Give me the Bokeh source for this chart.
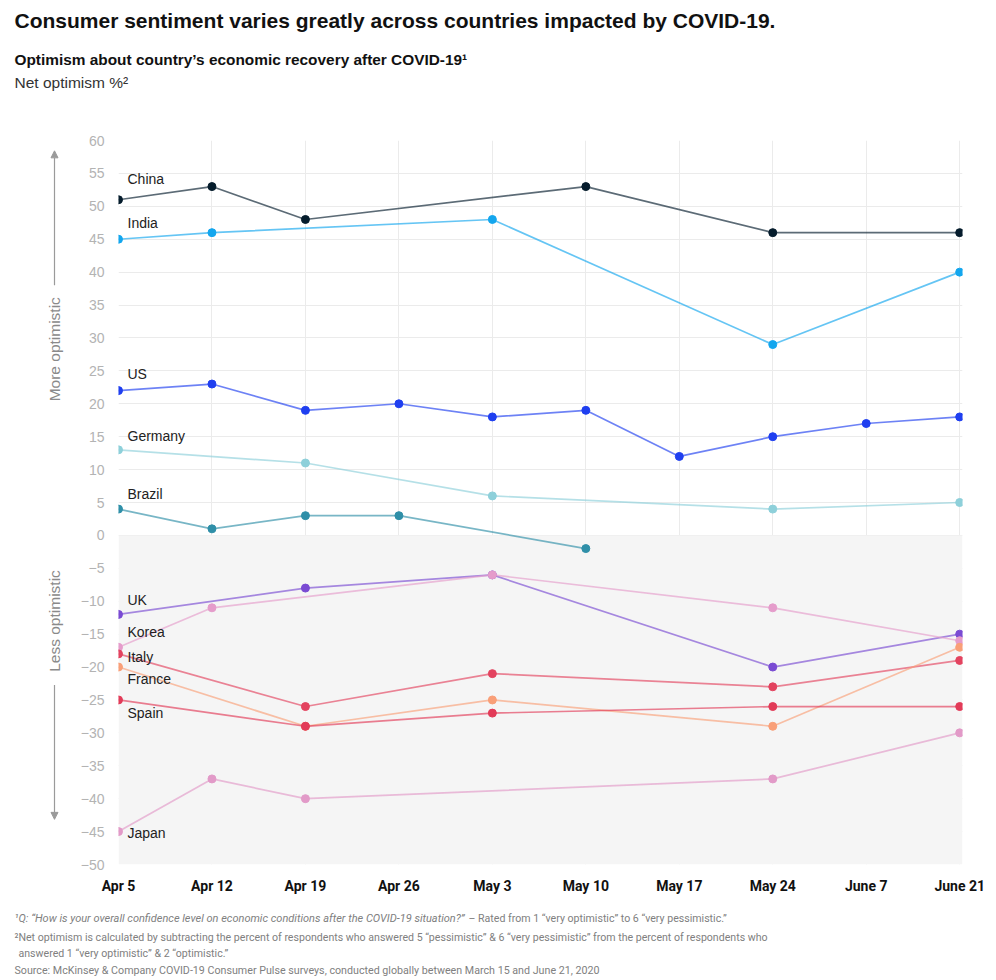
import math
from bokeh.plotting import figure
from bokeh.layouts import column, row
from bokeh.models import (Range1d, FixedTicker, Arrow, NormalHead,
                          BoxAnnotation, ColumnDataSource)
from bokeh.core.properties import value
from bokeh.embed import file_html
from bokeh.resources import INLINE

# ---------------- data ----------------
dates = ["Apr 5", "Apr 12", "Apr 19", "Apr 26", "May 3",
         "May 10", "May 17", "May 24", "June 7", "June 21"]
y_ticks = list(range(-50, 61, 5))

countries = ["China", "India", "US", "Germany", "Brazil", "UK",
             "Korea", "Italy", "France", "Spain", "Japan"]

china_dates = ["Apr 5", "Apr 12", "Apr 19", "May 10", "May 24", "June 21"]
china_vals = [51, 53, 48, 53, 46, 46]
india_dates = ["Apr 5", "Apr 12", "May 3", "May 24", "June 21"]
india_vals = [45, 46, 48, 29, 40]
us_dates = ["Apr 5", "Apr 12", "Apr 19", "Apr 26", "May 3",
            "May 10", "May 17", "May 24", "June 7", "June 21"]
us_vals = [22, 23, 19, 20, 18, 19, 12, 15, 17, 18]
germany_dates = ["Apr 5", "Apr 19", "May 3", "May 24", "June 21"]
germany_vals = [13, 11, 6, 4, 5]
brazil_dates = ["Apr 5", "Apr 12", "Apr 19", "Apr 26", "May 10"]
brazil_vals = [4, 1, 3, 3, -2]
uk_dates = ["Apr 5", "Apr 19", "May 3", "May 24", "June 21"]
uk_vals = [-12, -8, -6, -20, -15]
korea_dates = ["Apr 5", "Apr 12", "May 3", "May 24", "June 21"]
korea_vals = [-17, -11, -6, -11, -16]
italy_dates = ["Apr 5", "Apr 19", "May 3", "May 24", "June 21"]
italy_vals = [-18, -26, -21, -23, -19]
france_dates = ["Apr 5", "Apr 19", "May 3", "May 24", "June 21"]
france_vals = [-20, -29, -25, -29, -17]
spain_dates = ["Apr 5", "Apr 19", "May 3", "May 24", "June 21"]
spain_vals = [-25, -29, -27, -26, -26]
japan_dates = ["Apr 5", "Apr 12", "Apr 19", "May 24", "June 21"]
japan_vals = [-45, -37, -40, -37, -30]

series_dates = [china_dates, india_dates, us_dates, germany_dates, brazil_dates,
                uk_dates, korea_dates, italy_dates, france_dates, spain_dates,
                japan_dates]
series_vals = [china_vals, india_vals, us_vals, germany_vals, brazil_vals,
               uk_vals, korea_vals, italy_vals, france_vals, spain_vals,
               japan_vals]

title = "Consumer sentiment varies greatly across countries impacted by COVID-19."
subtitle = "Optimism about country\u2019s economic recovery after COVID-19\u00b9"
unit_text = "Net optimism %\u00b2"
more_text = "More optimistic"
less_text = "Less optimistic"
note1_italic = "\u00b9Q: \u201cHow is your overall confidence level on economic conditions after the COVID-19 situation?\u201d"
note1_rest = " \u2013 Rated from 1 \u201cvery optimistic\u201d to 6 \u201cvery pessimistic.\u201d"
note2a = "\u00b2Net optimism is calculated by subtracting the percent of respondents who answered 5 \u201cpessimistic\u201d & 6 \u201cvery pessimistic\u201d from the percent of respondents who"
note2b = "answered 1 \u201cvery optimistic\u201d & 2 \u201coptimistic.\u201d"
source = "Source: McKinsey & Company COVID-19 Consumer Pulse surveys, conducted globally between March 15 and June 21, 2020"

# ---------------- styles ----------------
colors = ["#051c2c", "#13a6ee", "#1f3ff0", "#8ed0da", "#2f8fa8", "#7a4bd3",
          "#e59ccb", "#e3435f", "#f99f78", "#e23b58", "#e29ac8"]
label_nudge = [-21, -16, -17, -14, -15, -14, -15, 3, 12, 13, 1]  # px, +down

W = 996
TOP_H, MID_H, BOT_H = 130, 770, 80
LEFT_W = 70
SANS = "Liberation Sans"


def blank(width, height, x0, x1, y0, y1):
    f = figure(width=width, height=height, output_backend="svg",
               toolbar_location=None, x_axis_type=None, y_axis_type=None,
               x_range=Range1d(x0, x1), y_range=Range1d(y0, y1), min_border=0)
    f.outline_line_color = None
    f.background_fill_color = "white"
    f.border_fill_color = "white"
    return f


def put_text(f, x, y, txt, size, style="normal", color="#222222",
             font=SANS, angle=0.0, align="left"):
    f.text(x=[x], y=[y], text=[txt], text_font=value(font),
           text_font_size=size, text_font_style=style, text_color=color,
           text_baseline="middle", text_align=align, angle=angle)


# ---- top block (canvas pixel coords) ----
top = blank(W, TOP_H, 0, W, TOP_H, 0)
put_text(top, 14, 20, title, "21px", "bold", "#111111")
put_text(top, 14, 59, subtitle, "15.4px", "bold", "#111111")
put_text(top, 14, 82, unit_text, "15.5px", "normal", "#333333")

# ---- left block with arrows ----
left = blank(LEFT_W, MID_H, 0, LEFT_W, TOP_H + MID_H, TOP_H)
put_text(left, 54, 352, more_text, "15.5px", color="#8a8a8a",
         angle=math.pi / 2, align="center")
put_text(left, 54, 641, less_text, "15.5px", color="#8a8a8a",
         angle=math.pi / 2, align="center")
for ys, ye in ((284, 141), (709, 852)):
    left.add_layout(Arrow(x_start=54, y_start=ys, x_end=54, y_end=ye,
                          line_color="#9a9a9a", line_width=1.2,
                          end=NormalHead(size=7, fill_color="#9a9a9a",
                                         line_color="#9a9a9a")))

# ---- main chart ----
p = figure(width=W - LEFT_W, height=MID_H, output_backend="svg",
           toolbar_location=None,
           x_range=Range1d(0, 9.03), y_range=Range1d(-50, 60),
           min_border_left=118 - LEFT_W, min_border_right=W - 962,
           min_border_top=140 - TOP_H, min_border_bottom=TOP_H + MID_H - 864)
p.outline_line_color = None
p.background_fill_color = "white"
p.border_fill_color = "white"

p.add_layout(BoxAnnotation(top=0, bottom=-50, fill_color="#f5f5f5",
                           fill_alpha=1, line_color=None, level="underlay"))

p.xaxis.ticker = FixedTicker(ticks=list(range(len(dates))))
p.xaxis.major_label_overrides = {i: d for i, d in enumerate(dates)}
p.yaxis.ticker = FixedTicker(ticks=y_ticks)
for ax in (p.xaxis[0], p.yaxis[0]):
    ax.axis_line_color = None
    ax.major_tick_line_color = None
    ax.minor_tick_line_color = None
    ax.major_tick_out = 0
    ax.major_tick_in = 0
    ax.minor_tick_out = 0
    ax.minor_tick_in = 0
p.xaxis.major_label_text_font = "Roboto"
p.xaxis.major_label_text_font_style = "bold"
p.xaxis.major_label_text_font_size = "14px"
p.xaxis.major_label_text_color = "#111111"
p.xaxis.major_label_standoff = 13
p.yaxis.major_label_text_font = SANS
p.yaxis.major_label_text_font_size = "14px"
p.yaxis.major_label_text_color = "#b3b3b3"
p.yaxis.major_label_standoff = 14

p.xgrid.grid_line_color = "#ebebeb"
p.ygrid.grid_line_color = "#ebebeb"
p.xgrid.ticker = FixedTicker(ticks=list(range(len(dates))))
p.ygrid.ticker = FixedTicker(ticks=y_ticks)

for name, ds, vs, c in zip(countries, series_dates, series_vals, colors):
    xs = [dates.index(d) for d in ds]
    src = ColumnDataSource(dict(x=xs, y=vs))
    p.line("x", "y", source=src, line_color=c, line_width=1.7, line_alpha=0.65)
    p.scatter("x", "y", source=src, size=8, fill_color=c, line_color=c)

lab_src = ColumnDataSource(dict(
    x=[dates.index(ds[0]) for ds in series_dates],
    y=[vs[0] for vs in series_vals],
    t=countries,
    yo=label_nudge))
p.text("x", "y", text="t", source=lab_src, x_offset=9, y_offset="yo",
       text_font=value(SANS), text_font_size="14px",
       text_color="#222222", text_baseline="middle", text_align="left")

# ---- footnotes ----
Y0 = TOP_H + MID_H
bot = blank(W, BOT_H, 0, W, Y0 + BOT_H, Y0)
fn = "#808080"
put_text(bot, 14, 918, note1_italic, "11px", "italic", fn, font="Roboto")
put_text(bot, 468, 918, note1_rest, "10.6px", "normal", fn, font="Roboto")
put_text(bot, 14, 937, note2a, "10.6px", "normal", fn, font="Roboto")
put_text(bot, 18, 953, note2b, "10.6px", "normal", fn, font="Roboto")
put_text(bot, 14, 970, source, "10.7px", "normal", fn, font="Roboto")

layout = column(top, row(left, p), bot)
open("out.html", "w").write(file_html(layout, INLINE))
